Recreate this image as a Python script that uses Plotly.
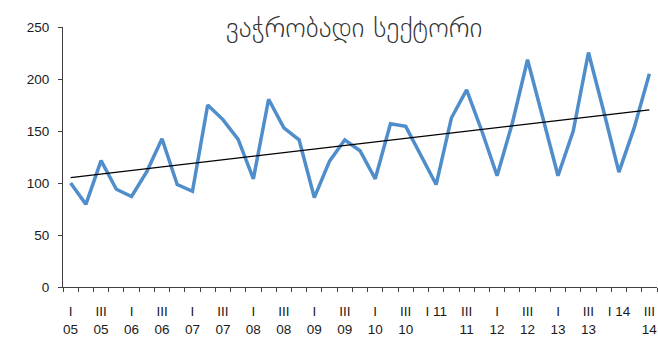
import numpy as np
import plotly.graph_objects as go

# Quarterly index of the tradable sector, 2005 Q1 - 2014 Q3
quarters = [f"{q} {y:02d}" for y in range(5, 15) for q in ("I", "II", "III", "IV")][:39]
values = [
    100, 79.5, 121.5, 94,
    87, 111, 142.5, 98.5,
    92, 175, 161, 142,
    104, 180.5, 153, 141.5,
    86, 121, 141.5, 131,
    104, 157, 154.5, 127,
    98.5, 162.5, 189.5, 150,
    107, 157.5, 218.5, 163,
    107, 150, 225.5, 169,
    110.5, 153, 205,
]
# Axis labels shown on every second quarter
tick_labels = [
    "I<br>05", "III<br>05", "I<br>06", "III<br>06", "I<br>07", "III<br>07",
    "I<br>08", "III<br>08", "I<br>09", "III<br>09", "I<br>10", "III<br>10",
    "I 11", "III<br>11", "I<br>12", "III<br>12", "I<br>13", "III<br>13",
    "I 14", "III<br>14",
]
y_ticks = [0, 50, 100, 150, 200, 250]

x = np.arange(len(values))
slope, intercept = np.polyfit(x, values, 1)
trend = slope * x + intercept

axis_color = "#404040"
font = dict(family="Liberation Sans, Arial, sans-serif", size=13.5, color="#1a1a1a")

fig = go.Figure()
fig.add_trace(go.Scatter(
    x=x, y=values, mode="lines", name="ვაჭრობადი სექტორი",
    line=dict(color="#4F8DCB", width=3.5), hoverinfo="x+y",
))
fig.add_trace(go.Scatter(
    x=x, y=trend, mode="lines", name="ტრენდი",
    line=dict(color="#000000", width=1.2),
))

fig.update_layout(
    width=658, height=338,
    margin=dict(l=63, r=1, t=27, b=51),
    paper_bgcolor="white", plot_bgcolor="white",
    showlegend=False,
    font=font,
    title=dict(
        text="ვაჭრობადი სექტორი",
        font=dict(family="DejaVu Sans, Noto Sans, sans-serif", size=27.5,
                  weight=200, color="#333333"),
        xref="container", x=354 / 658, xanchor="center",
        yref="container", y=1 - 27 / 338, yanchor="middle",
    ),
)
fig.update_xaxes(
    range=[-0.5, len(values) - 0.5],
    tickmode="array", tickvals=x[::2], ticktext=tick_labels,
    ticks="outside", ticklen=4, tickcolor="rgba(0,0,0,0)",
    ticklabelstandoff=8,
    minor=dict(tickmode="linear", tick0=-0.5, dtick=1, ticks="outside",
               ticklen=4, tickcolor=axis_color, tickwidth=1),
    showline=True, linecolor=axis_color, linewidth=1,
    showgrid=False, zeroline=False,
    tickfont=font,
)
fig.update_yaxes(
    range=[0, 250], tickvals=y_ticks,
    ticks="outside", ticklen=4, tickcolor=axis_color, tickwidth=1,
    ticklabelstandoff=6,
    showline=True, linecolor=axis_color, linewidth=1,
    showgrid=False, zeroline=False,
    tickfont=font,
)

fig.write_html("out.html")
